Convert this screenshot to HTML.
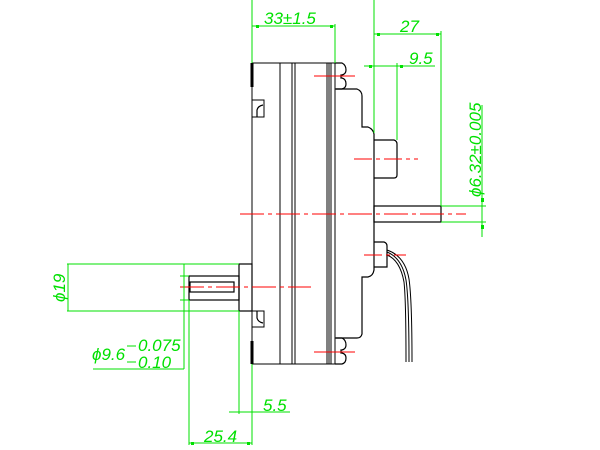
<!DOCTYPE html>
<html><head><meta charset="utf-8"><style>
html,body{margin:0;padding:0;background:#fff;width:600px;height:450px;overflow:hidden}
svg{display:block}
text{font-family:"Liberation Sans",sans-serif;font-style:italic;fill:#00e000;font-size:17px}
</style></head><body>
<svg width="600" height="450" viewBox="0 0 600 450">
<g stroke="#000" stroke-width="1.2" fill="none" shape-rendering="crispEdges">
<polyline points="280,63 252,63 252,364 280,364"/>
<line x1="252" y1="63" x2="252" y2="87" stroke-width="3"/>
<line x1="252" y1="341" x2="252" y2="364" stroke-width="3"/>
<rect x="280" y="63" width="55" height="301"/>
<line x1="292" y1="63" x2="292" y2="364" stroke-width="1"/>
<line x1="295" y1="63" x2="295" y2="364" stroke-width="1"/>
<line x1="327" y1="63" x2="327" y2="364" stroke-width="1"/>
<line x1="329" y1="63" x2="329" y2="364" stroke-width="1"/>
<line x1="331" y1="63" x2="331" y2="364" stroke-width="1"/>
<rect x="252" y="100" width="12" height="17"/>
<rect x="252" y="311" width="12" height="16"/>
</g>
<g stroke="#000" stroke-width="1.2" fill="none">
<path d="M257,117 V110 Q258,106 263,105"/>
<path d="M257,311 V318 Q258,322 263,323"/>
<path d="M335,63 H342 Q346,65 346,70 Q346,74 342,75 H341 V78 H342 Q346,79 346,84 Q346,88 342,89 H335"/>
<path d="M335,338 H342 Q346,340 346,345 Q346,349 342,350 H341 V353 H342 Q346,354 346,358 Q346,363 342,364 H335"/>
<path d="M336,89 H357 Q362,91 362,96 V127 H368 Q373,129 374,134 V270 Q373,276 368,277 H362 V334 Q361,338 357,338 H336"/>
<path d="M374,140 H394 Q397,141 397,144 V175 Q397,178 394,178 H374"/>
<rect x="374" y="206" width="67" height="16"/>
<path d="M374,242 H384 Q387,243 387,246 V267 H374"/>
<rect x="239" y="264" width="13" height="47"/>
<rect x="189" y="276" width="50" height="24"/>
<rect x="190" y="282" width="44" height="10"/>
<path d="M387,252 Q402,258 406,280 Q409,300 409,362" stroke-width="1"/>
<path d="M387,255 Q400,260 404,282 Q406,300 406,362" stroke-width="1"/>
<path d="M387,250 Q405,256 409,279 Q412,300 412,362" stroke-width="1"/>
</g>
<g stroke="#f00" stroke-width="1.2" fill="none" shape-rendering="crispEdges">
<line x1="240" y1="214" x2="466" y2="214" stroke-dasharray="24,4,4,4"/>
<line x1="314" y1="76" x2="355" y2="76"/>
<line x1="314" y1="352" x2="355" y2="352"/>
<line x1="354" y1="159" x2="418" y2="159" stroke-dasharray="18,4,4,4"/>
<line x1="364" y1="255" x2="406" y2="255" stroke-dasharray="18,4,4,4"/>
<line x1="180" y1="287" x2="311" y2="287" stroke-dasharray="24,4,4,4"/>
</g>
<g stroke="#00e000" stroke-width="1" fill="none" shape-rendering="crispEdges">
<line x1="252" y1="0" x2="252" y2="63"/>
<line x1="335" y1="24" x2="335" y2="63"/>
<line x1="252" y1="26" x2="335" y2="26"/>
<line x1="374" y1="0" x2="374" y2="133"/>
<line x1="441" y1="31" x2="441" y2="206"/>
<line x1="374" y1="34" x2="441" y2="34"/>
<line x1="364" y1="66" x2="435" y2="66"/>
<line x1="397" y1="63" x2="397" y2="140"/>
<line x1="441" y1="206" x2="486" y2="206"/>
<line x1="441" y1="222" x2="486" y2="222"/>
<line x1="482" y1="105" x2="482" y2="237"/>
<line x1="67" y1="264" x2="239" y2="264"/>
<line x1="67" y1="311" x2="239" y2="311"/>
<line x1="68" y1="264" x2="68" y2="311"/>
<line x1="184" y1="264" x2="184" y2="369"/>
<line x1="93" y1="369" x2="184" y2="369"/>
<line x1="180" y1="276" x2="189" y2="276"/>
<line x1="180" y1="300" x2="189" y2="300"/>
<line x1="189" y1="300" x2="189" y2="445"/>
<line x1="252" y1="364" x2="252" y2="445"/>
<line x1="189" y1="443" x2="252" y2="443"/>
<line x1="239" y1="311" x2="239" y2="414"/>
<line x1="229" y1="412" x2="290" y2="412"/>
<line x1="127" y1="346" x2="136" y2="346"/>
<line x1="127" y1="362" x2="136" y2="362"/>
</g>
<g fill="#00e000">
<rect x="256" y="25" width="3" height="3"/><rect x="330" y="25" width="3" height="3"/>
<rect x="377" y="33" width="3" height="3"/><rect x="436" y="33" width="3" height="3"/>
<rect x="369" y="65" width="3" height="3"/><rect x="400" y="65" width="3" height="3"/>
<rect x="481" y="198" width="3" height="4"/><rect x="481" y="225" width="3" height="4"/>
<rect x="191" y="442" width="3" height="3"/><rect x="247" y="442" width="3" height="3"/>
</g>
<text x="264" y="24" font-size="18">33±1.5</text>
<text x="400" y="32">27</text>
<text x="409" y="64">9.5</text>
<text transform="translate(481,197) rotate(-90)" font-size="18">ϕ6.32±0.005</text>
<text transform="translate(65,302) rotate(-90)" font-size="15">ϕ19</text>
<text x="92" y="360" font-size="16">ϕ9.6</text>
<text x="138" y="351" font-size="16">0.075</text>
<text x="138" y="368" font-size="16">0.10</text>
<text x="263" y="411">5.5</text>
<text x="204" y="442">25.4</text>
</svg>
</body></html>
